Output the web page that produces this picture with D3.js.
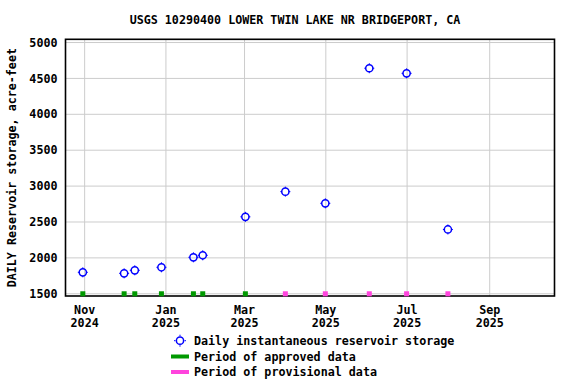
<!DOCTYPE html>
<html><head><meta charset="utf-8">
<script src="https://cdn.jsdelivr.net/npm/d3@7"></script>
<style>
body{margin:0;background:#fff;}
text{font-family:"DejaVu Sans Mono","Liberation Mono",monospace;font-weight:bold;font-size:11.7px;fill:#000;}
</style></head><body>
<svg id="c" width="576" height="384"></svg>
<script>
const title = "USGS 10290400 LOWER TWIN LAKE NR BRIDGEPORT, CA";
const yLabel = "DAILY Reservoir storage, acre-feet";
const dates = ["2024-10-31","2024-12-01","2024-12-09","2024-12-29","2025-01-22","2025-01-29","2025-03-02","2025-04-01","2025-05-01","2025-06-03","2025-07-01","2025-08-01"];
const storage = [1792,1778,1820,1862,2001,2029,2565,2916,2753,4635,4564,2389];
const status = ["A","A","A","A","A","A","A","P","P","P","P","P"];
const yTicks = [1500,2000,2500,3000,3500,4000,4500,5000];
const xTicks = ["2024-11-01","2025-01-01","2025-03-01","2025-05-01","2025-07-01","2025-09-01"];
const xDomain = ["2024-10-18","2025-10-20"];
const yDomain = [1462,5038];
const legendLabels = ["Daily instantaneous reservoir storage","Period of approved data","Period of provisional data"];

const parse = d3.utcParse("%Y-%m-%d");
const svg = d3.select("#c");
const L=65.5,R=554.5,T=39.3,B=296;
const x = d3.scaleUtc().domain(xDomain.map(parse)).range([L,R]);
const y = d3.scaleLinear().domain(yDomain).range([B,T]);
const green="#009900", pink="#ff44dd", blue="#0000ff", grid="#cccccc";

// grid via axes
const gx = svg.append("g").attr("transform",`translate(0,${B})`)
  .call(d3.axisBottom(x).tickValues(xTicks.map(parse)).tickSize(-(B-T)).tickFormat(""));
gx.select(".domain").remove();
gx.selectAll("line").attr("stroke",grid).attr("stroke-width",1);
const gy = svg.append("g").attr("transform",`translate(${L},0)`)
  .call(d3.axisLeft(y).tickValues(yTicks).tickSize(-(R-L)).tickFormat(""));
gy.select(".domain").remove();
gy.selectAll("line").attr("stroke",grid).attr("stroke-width",1);

// y labels
const ya = svg.append("g").attr("transform",`translate(${L},0)`)
  .call(d3.axisLeft(y).tickValues(yTicks).tickSize(0).tickPadding(8).tickFormat(d3.format("d")));
ya.select(".domain").remove();
ya.selectAll("text").attr("font-family",null).attr("font-size",null).attr("dy","0.35em");

// x labels
const fmtM = d3.utcFormat("%b"), fmtY = d3.utcFormat("%Y");
const xa = svg.append("g").attr("transform",`translate(0,${B})`)
  .call(d3.axisBottom(x).tickValues(xTicks.map(parse)).tickSize(0).tickFormat(""));
xa.select(".domain").remove();
xa.selectAll(".tick").each(function(d){
  const t = d3.select(this).append("text").attr("text-anchor","middle");
  t.append("tspan").attr("x",0).attr("y",18).text(fmtM(d));
  t.append("tspan").attr("x",0).attr("y",31).text(fmtY(d));
});

// frame
svg.append("rect").attr("x",L).attr("y",T).attr("width",R-L).attr("height",B-T)
  .attr("fill","none").attr("stroke","#000").attr("stroke-width",1.6);

const data = dates.map((d,i)=>({date:parse(d),v:storage[i],s:status[i]}));
// status markers
svg.append("g").selectAll("rect").data(data).join("rect")
  .attr("x",d=>x(d.date)-2.5).attr("y",y(1500)-2).attr("width",5).attr("height",5)
  .attr("fill",d=>d.s==="A"?green:pink);
// points
const pts = svg.append("g").selectAll("g").data(data).join("g")
  .attr("transform",d=>`translate(${x(d.date)},${y(d.v)})`);
pts.append("circle").attr("r",3.6).attr("fill","none").attr("stroke",blue).attr("stroke-width",1.5);
pts.append("path").attr("d","M0,-5V-3.5M0,3.5V5M-5,0H-3.5M3.5,0H5").attr("stroke",blue).attr("stroke-width",1);

// title
svg.append("text").attr("x",295).attr("y",24).attr("text-anchor","middle").text(title);
// y label
svg.append("text").attr("transform",`translate(16,${(T+B)/2}) rotate(-90)`).attr("text-anchor","middle").text(yLabel);

// legend
const lg = svg.append("g");
lg.append("circle").attr("cx",180).attr("cy",340.7).attr("r",3.6).attr("fill","none").attr("stroke",blue).attr("stroke-width",1.5);
lg.append("path").attr("d","M180,334.7V336.2M180,345.2V346.7M174,340.7H175.5M184.5,340.7H186").attr("stroke",blue);
lg.append("line").attr("x1",171).attr("x2",189).attr("y1",356.5).attr("y2",356.5).attr("stroke",green).attr("stroke-width",4);
lg.append("line").attr("x1",171).attr("x2",189).attr("y1",372).attr("y2",372).attr("stroke",pink).attr("stroke-width",4);
legendLabels.forEach((s,i)=>{
  lg.append("text").attr("x",194).attr("y",341+i*15.5).attr("dy","0.35em").text(s);
});
</script></body></html>
